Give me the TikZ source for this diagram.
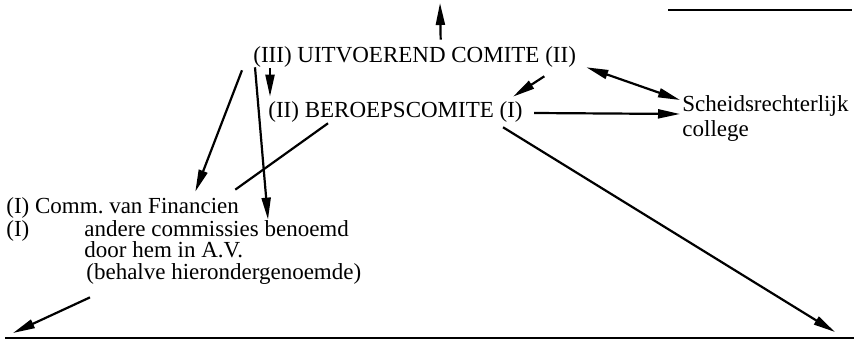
\documentclass[tikz,border=0pt]{standalone}
\usepackage{fontspec}
\setmainfont{Liberation Serif}
\usepackage{tikz}
\usetikzlibrary{arrows.meta}
\tikzset{
  org/.style={inner sep=0pt, anchor=base west, font=\fontsize{11.5}{13}\selectfont},
  pijl/.style={-{Triangle[length=11pt,width=4.5pt]}, line width=1.1pt},
  dpijl/.style={{Triangle[length=11pt,width=4.5pt]}-{Triangle[length=11pt,width=4.5pt]}, line width=1.1pt},
  lijn/.style={line width=1.1pt}
}

\begin{document}
\begin{tikzpicture}[x=0.5pt, y=-0.5pt]
\useasboundingbox (0,0) rectangle (854,341);
% organen
\node[org] (uc) at (253,63) {(III) UITVOEREND COMITE (II)};
\node[org] (bc) at (268,118) {(II) BEROEPSCOMITE (I)};
\node[org] (sc) at (682,112) {Scheidsrechterlijk};
\node[org] (scb) at (682,137) {college};
\node[org] (cf) at (6,214) {(I) Comm.\ van Financien};
\node[org] (ci) at (6,236) {(I)};
\node[org] (ac) at (84,236) {andere commissies benoemd};
\node[org] (ad) at (84,257) {door hem in A.V.};
\node[org] (bh) at (86,279) {(behalve hierondergenoemde)};
% lijnen boven en onder
\coordinate (top) at (440,3);
\coordinate (tl) at (668,10);
\coordinate (tr) at (852,10);
\coordinate (bl) at (5,338);
\coordinate (br) at (854,338);
\draw[lijn] (tl) -- (tr);
\draw[line width=1.3pt] (bl) -- (br);
% pijlen
\draw[pijl] ([shift={(26,-7)}]uc.north) -- (top);
\draw[pijl] ([shift={(17,0)}]uc.south west) -- ([shift={(2,-5)}]bc.north west);
\draw[pijl] ([shift={(-32,8)}]uc.south east) -- ([shift={(-10,-5)}]bc.north east);
\draw[dpijl] ([shift={(10,-1)}]uc.south east) -- ([shift={(-2,-12)}]sc.base west);
\draw[pijl] ([shift={(11,-5)}]bc.base east) -- ([shift={(-2,2)}]sc.base west);
\draw[pijl] ([shift={(-11,2)}]uc.south west) -- ([shift={(-44,-6)}]cf.north east);
\draw[pijl] ([shift={(2,-1)}]uc.south west) -- ([shift={(184,0)}]ac.north west);
\draw[lijn] ([shift={(60,0)}]bc.south west) -- ([shift={(-4,-8)}]cf.north east);
\draw[pijl] ([shift={(-20,4)}]bc.south east) -- ([shift={(-19,-6)}]br);
\draw[pijl] ([shift={(4,13)}]bh.south west) -- ([shift={(8,-5)}]bl);
\end{tikzpicture}
\end{document}
